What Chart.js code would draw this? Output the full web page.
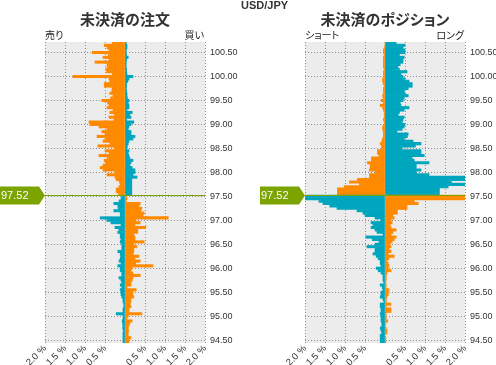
<!DOCTYPE html>
<html lang="ja">
<head>
<meta charset="UTF-8">
<title>USD/JPY 未決済の注文 / 未決済のポジション</title>
<script src="https://cdn.jsdelivr.net/npm/chart.js"></script>
<style>
    body { margin: 0; background: #fff; }
    #wrap { position: relative; width: 496px; height: 365px; overflow: hidden; }
    #wrap canvas { position: absolute; top: 0; }
    .txt {
        position: absolute;
        font-family: "Noto Sans CJK JP", sans-serif;
        font-feature-settings: "palt";
        color: #333;
        white-space: nowrap;
    }
    .pair { left: 241px; top: 0; font: bold 11px "Liberation Sans", Arial, sans-serif; line-height: 11px; }
    .title { top: 11px; width: 160px; text-align: center; font-size: 15px; font-weight: bold; line-height: 15px; }
    .side { top: 30px; font-size: 10px; line-height: 10px; color: #222; }
</style>
</head>
<body>
<div id="wrap">
    <canvas id="orders" width="248" height="365" style="left:0"></canvas>
    <canvas id="positions" width="248" height="365" style="left:248px"></canvas>

    <div class="txt pair">USD/JPY</div>
    <div class="txt title" style="left:45px">未決済の注文</div>
    <div class="txt title" style="left:305px">未決済のポジション</div>
    <div class="txt side" style="left:45px">売り</div>
    <div class="txt side" style="left:164px;width:40px;text-align:right">買い</div>
    <div class="txt side" style="left:305px">ショート</div>
    <div class="txt side" style="left:404px;width:60px;text-align:right">ロング</div>
</div>

<script>
    // price levels, one bar every 0.05 from 100.70 down to 94.45
    const levels = Array.from({ length: 126 }, (_, i) => +(100.70 - i * 0.05).toFixed(2));
    const currentPrice = 97.52;
    const yTicks = [94.5, 95, 95.5, 96, 96.5, 97, 97.5, 98, 98.5, 99, 99.5, 100, 100.5];

    // open orders (% of total), left side = 売り, right side = 買い
    const orderSell = [
        0.32, 0.52, 0.45, 0.40, 0.82, 0.42, 0.55, 0.40, 0.75, 0.45,
        0.44, 0.48, 0.46, 0.32, 1.30, 0.40, 0.38, 0.52, 0.52, 0.32,
        0.33, 0.38, 0.30, 0.36, 0.58, 0.44, 0.40, 0.45, 0.30, 0.38,
        0.27, 0.40, 0.28, 0.90, 0.88, 0.65, 0.45, 0.58, 0.50, 0.70,
        0.50, 0.55, 0.38, 0.68, 0.27, 0.50, 0.40, 0.65, 0.44, 0.52,
        0.48, 0.55, 0.62, 0.55, 0.25, 0.45, 0.25, 0.22, 0.14, 0.12,
        0.15, 0.22, 0.22, 0.17, 0.08, 0.10, 0.15, 0.28, 0.18, 0.17,
        0.28, 0.12, 0.12, 0.62, 0.45, 0.35, 0.10, 0.25, 0.15, 0.18,
        0.12, 0.12, 0.10, 0.12, 0.08, 0.08, 0.08, 0.18, 0.12, 0.11,
        0.12, 0.15, 0.10, 0.18, 0.12, 0.12, 0.08, 0.08, 0.15, 0.10,
        0.08, 0.12, 0.08, 0.12, 0.10, 0.10, 0.08, 0.05, 0.05, 0.03,
        0.03, 0.05, 0.05, 0.22, 0.05, 0.05, 0.07, 0.06, 0.05, 0.06,
        0.04, 0.05, 0.05, 0.05, 0.05, 0.05
    ];
    const orderBuy = [
        0.03, 0.05, 0.05, 0.03, 0.03, 0.04, 0.08, 0.04, 0.03, 0.03,
        0.03, 0.04, 0.04, 0.05, 0.20, 0.10, 0.07, 0.04, 0.04, 0.03,
        0.04, 0.05, 0.05, 0.06, 0.10, 0.08, 0.10, 0.10, 0.05, 0.18,
        0.12, 0.15, 0.04, 0.22, 0.15, 0.10, 0.08, 0.15, 0.15, 0.25,
        0.20, 0.10, 0.08, 0.06, 0.05, 0.10, 0.08, 0.10, 0.12, 0.20,
        0.15, 0.12, 0.18, 0.25, 0.25, 0.20, 0.30, 0.17, 0.17, 0.17,
        0.17, 0.17, 0.17, 0.17, 0.03, 0.05, 0.03, 0.38, 0.35, 0.42,
        0.40, 0.48, 0.45, 1.08, 0.27, 0.38, 0.25, 0.52, 0.32, 0.32,
        0.22, 0.25, 0.25, 0.48, 0.22, 0.30, 0.22, 0.22, 0.20, 0.35,
        0.25, 0.38, 0.27, 0.70, 0.18, 0.15, 0.20, 0.38, 0.20, 0.18,
        0.15, 0.15, 0.05, 0.28, 0.20, 0.20, 0.22, 0.15, 0.15, 0.13,
        0.15, 0.10, 0.10, 0.42, 0.08, 0.05, 0.18, 0.12, 0.10, 0.08,
        0.09, 0.08, 0.08, 0.15, 0.10, 0.10
    ];

    // open positions (% of total), left side = ショート, right side = ロング
    const posShort = [
        0.00, 0.00, 0.02, 0.04, 0.04, 0.02, 0.04, 0.04, 0.04, 0.04,
        0.04, 0.02, 0.04, 0.04, 0.02, 0.06, 0.06, 0.04, 0.02, 0.04,
        0.04, 0.04, 0.06, 0.04, 0.09, 0.04, 0.12, 0.06, 0.04, 0.02,
        0.02, 0.02, 0.04, 0.02, 0.02, 0.06, 0.06, 0.04, 0.04, 0.04,
        0.06, 0.08, 0.12, 0.09, 0.09, 0.19, 0.19, 0.15, 0.34, 0.34,
        0.44, 0.37, 0.37, 0.39, 0.24, 0.39, 0.39, 0.69, 0.89, 0.64,
        1.02, 1.19, 1.19, 1.19, 2.00, 2.00, 1.65, 1.55, 1.38, 1.20,
        0.70, 0.55, 0.50, 0.25, 0.10, 0.35, 0.30, 0.35, 0.25, 0.20,
        0.05, 0.48, 0.32, 0.15, 0.25, 0.45, 0.25, 0.25, 0.30, 0.22,
        0.17, 0.12, 0.12, 0.10, 0.22, 0.17, 0.10, 0.05, 0.05, 0.05,
        0.03, 0.12, 0.07, 0.05, 0.10, 0.10, 0.12, 0.05, 0.03, 0.12,
        0.12, 0.10, 0.10, 0.12, 0.10, 0.10, 0.10, 0.08, 0.08, 0.12,
        0.10, 0.08, 0.12, 0.12, 0.12, 0.12
    ];
    const posLong = [
        0.28, 0.50, 0.45, 0.50, 0.50, 0.36, 0.48, 0.45, 0.45, 0.38,
        0.32, 0.36, 0.55, 0.40, 0.45, 0.50, 0.60, 0.68, 0.68, 0.58,
        0.48, 0.50, 0.58, 0.48, 0.45, 0.38, 0.40, 0.60, 0.48, 0.36,
        0.33, 0.48, 0.45, 0.43, 0.50, 0.48, 0.43, 0.30, 0.58, 0.56,
        0.48, 0.70, 0.90, 0.76, 0.43, 0.90, 0.90, 0.98, 0.68, 0.73,
        1.10, 0.78, 0.78, 0.90, 0.78, 1.10, 2.00, 2.00, 1.66, 2.00,
        1.58, 1.36, 1.36, 1.36, 2.00, 2.00, 0.73, 0.83, 0.55, 0.55,
        0.31, 0.31, 0.20, 0.23, 0.15, 0.18, 0.13, 0.15, 0.28, 0.20,
        0.15, 0.28, 0.23, 0.18, 0.13, 0.15, 0.10, 0.15, 0.08, 0.23,
        0.10, 0.05, 0.08, 0.10, 0.08, 0.15, 0.05, 0.03, 0.03, 0.03,
        0.02, 0.03, 0.03, 0.10, 0.08, 0.08, 0.05, 0.03, 0.03, 0.15,
        0.03, 0.15, 0.15, 0.03, 0.03, 0.03, 0.07, 0.02, 0.00, 0.03,
        0.05, 0.05, 0.00, 0.02, 0.02, 0.02
    ];

    const orange = '#ff8a00';
    const teal = '#00a5be';
    const green = '#7ba400';
    const gridColor = '#8f8f8f';
    const tickFont = { family: '"Liberation Sans", Arial, sans-serif', size: 9 };

    // grey plot background
    const plotBg = {
        id: 'plotBg',
        beforeDraw(chart) {
            const { ctx, chartArea: a } = chart;
            ctx.save();
            ctx.fillStyle = '#ececec';
            ctx.fillRect(a.left, a.top, a.width, a.height);
            ctx.restore();
        }
    };

    // current price line + green tag on the left
    const priceTag = {
        id: 'priceTag',
        afterDatasetsDraw(chart) {
            const { ctx, chartArea: a, scales: { y } } = chart;
            const py = Math.round(y.getPixelForValue(currentPrice)) + 0.5;
            ctx.save();
            ctx.strokeStyle = green;
            ctx.lineWidth = 1;
            ctx.beginPath();
            ctx.moveTo(a.left, py);
            ctx.lineTo(a.right, py);
            ctx.stroke();

            ctx.fillStyle = green;
            ctx.beginPath();
            ctx.moveTo(a.left - 45, py - 9);
            ctx.lineTo(a.left - 6, py - 9);
            ctx.lineTo(a.left, py);
            ctx.lineTo(a.left - 6, py + 9);
            ctx.lineTo(a.left - 45, py + 9);
            ctx.closePath();
            ctx.fill();

            ctx.fillStyle = '#fff';
            ctx.font = '11px "Liberation Sans", Arial, sans-serif';
            ctx.textBaseline = 'middle';
            ctx.fillText(currentPrice.toFixed(2), a.left - 44, py);
            ctx.restore();
        }
    };

    function makePanel(id, leftVals, rightVals, padLeft, axisWidth) {
        const above = i => levels[i] > currentPrice;
        const barOpts = { grouped: false, categoryPercentage: 1, barPercentage: 1, borderWidth: 0 };

        return new Chart(document.getElementById(id), {
            type: 'bar',
            data: {
                datasets: [
                    {
                        ...barOpts,
                        data: levels.map((p, i) => ({ x: -leftVals[i], y: p })),
                        backgroundColor: c => above(c.dataIndex) ? orange : teal,
                    },
                    {
                        ...barOpts,
                        data: levels.map((p, i) => ({ x: rightVals[i], y: p })),
                        backgroundColor: c => above(c.dataIndex) ? teal : orange,
                    },
                ]
            },
            options: {
                indexAxis: 'y',
                responsive: false,
                animation: false,
                layout: { padding: { left: padLeft, top: 42, right: 0, bottom: 0 } },
                plugins: {
                    legend: { display: false },
                    tooltip: { enabled: false },
                },
                scales: {
                    x: {
                        type: 'linear',
                        min: -2,
                        max: 2,
                        grid: { color: gridColor, drawTicks: false },
                        border: { display: false, dash: [1, 2] },
                        ticks: {
                            stepSize: 0.5,
                            autoSkip: false,
                            minRotation: 45,
                            maxRotation: 45,
                            padding: 0,
                            color: '#333',
                            font: { ...tickFont, size: 9.5 },
                            callback: v => v === 0 ? '' : Math.abs(v).toFixed(1) + ' %',
                        },
                        afterFit: s => { s.height = 22; },
                    },
                    y: {
                        type: 'linear',
                        position: 'right',
                        min: 94.44,
                        max: 100.72,
                        offset: false,
                        grid: { color: gridColor, drawTicks: false, offset: false },
                        border: { display: false, dash: [1, 2] },
                        afterBuildTicks: s => { s.ticks = yTicks.map(v => ({ value: v })); },
                        ticks: {
                            padding: 5,
                            color: '#333',
                            font: tickFont,
                            callback: v => v.toFixed(2),
                        },
                        afterFit: s => { s.width = axisWidth; },
                    },
                },
            },
            plugins: [plotBg, priceTag],
        });
    }

    makePanel('orders', orderSell, orderBuy, 45, 43);
    makePanel('positions', posShort, posLong, 57, 31);
</script>
</body>
</html>
